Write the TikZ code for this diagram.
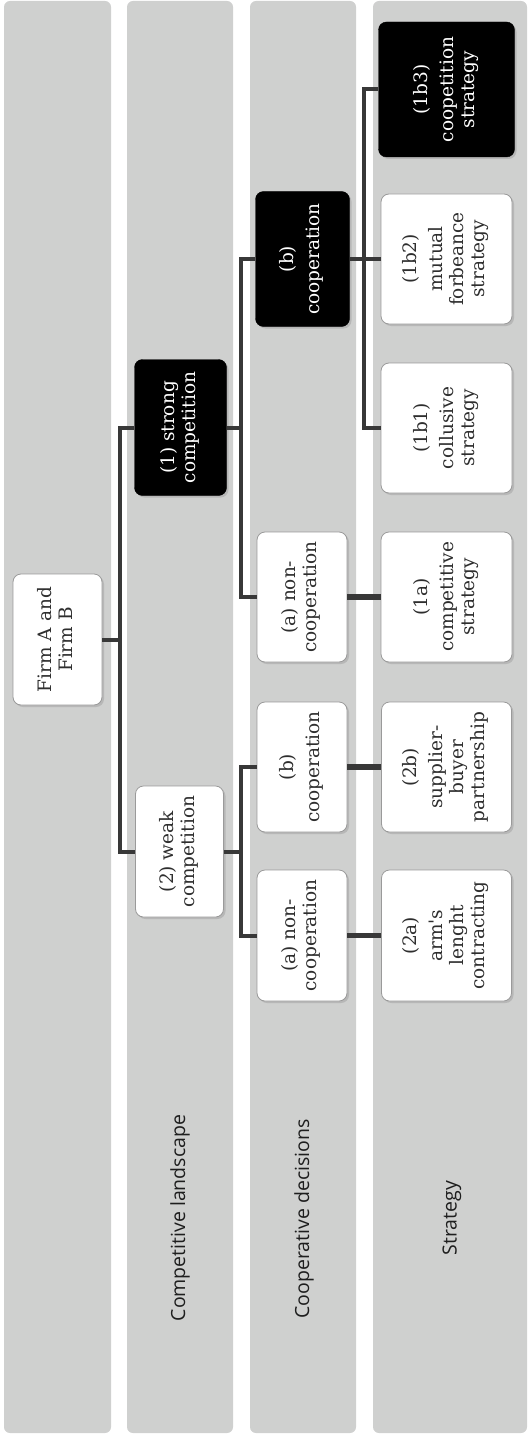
\documentclass[tikz,border=0pt]{standalone}
\usepackage{fontspec}
\setmainfont{DejaVu Serif}
\newfontfamily\labelfont{Open Sans}
\usetikzlibrary{shadows}
\definecolor{bandgray}{HTML}{CFD0CF}
\definecolor{linegray}{HTML}{383838}
\definecolor{txtgray}{HTML}{2E2E2E}
\definecolor{labgray}{HTML}{1E1E1E}
\definecolor{bordergray}{HTML}{9A9A9A}
\newcommand{\rottext}[1]{\rotatebox{90}{\begin{tabular}{@{}c@{}}#1\end{tabular}}}
\begin{document}
\begin{tikzpicture}[x=1pt,y=-1pt,
  bandlabel/.style={font=\labelfont\fontsize{19.5}{23}\selectfont, text=labgray, inner sep=0pt},
  boxbase/.style={rounded corners=8pt, inner sep=0pt, align=center,
    font=\fontsize{18.5}{21}\selectfont,
    drop shadow={shadow xshift=2pt, shadow yshift=-2pt, opacity=0.3}},
  wbox/.style={boxbase, fill=white, draw=bordergray, line width=0.8pt, text=txtgray},
  bbox/.style={boxbase, fill=black, draw=black, text=white},
  link/.style={draw=linegray, line width=4pt},
  slink/.style={draw=linegray, line width=5.5pt},
]
\useasboundingbox (0,0) rectangle (528,1439);
% bands
\fill[bandgray, rounded corners=6pt] (4,1) rectangle (111,1433);
\fill[bandgray, rounded corners=6pt] (127,1) rectangle (233,1433);
\fill[bandgray, rounded corners=6pt] (250,1) rectangle (356,1433);
\fill[bandgray, rounded corners=6pt] (373,1) rectangle (527,1433);
\node[bandlabel, rotate=90] (lab2) at (180,1218) {Competitive landscape};
\node[bandlabel, rotate=90] (lab3) at (304,1219) {Cooperative decisions};
\node[bandlabel, rotate=90] (lab4) at (452,1218) {Strategy};
% nodes
\node[wbox, minimum width=89pt, minimum height=131pt] (firm) at (57.5,639.5) {\rottext{Firm A and\\Firm B}};
\node[bbox, minimum width=92pt, minimum height=136pt] (strong) at (180.5,427.5) {\rottext{(1) strong\\competition}};
\node[wbox, minimum width=88pt, minimum height=131pt] (weak) at (179.5,851.5) {\rottext{(2) weak\\competition}};
\node[bbox, minimum width=94pt, minimum height=135pt] (sB) at (302.5,259) {\rottext{(b)\\[5pt]cooperation}};
\node[wbox, minimum width=90pt, minimum height=130pt] (sA) at (302,597) {\rottext{(a) non-\\cooperation}};
\node[wbox, minimum width=90pt, minimum height=130pt] (wB) at (302,767) {\rottext{(b)\\[5pt]cooperation}};
\node[wbox, minimum width=90pt, minimum height=131pt] (wA) at (302,935.5) {\rottext{(a) non-\\cooperation}};
\node[bbox, minimum width=136pt, minimum height=135pt] (s1b3) at (446.5,89.5) {\rottext{(1b3)\\[5pt]coopetition\\strategy}};
\node[wbox, minimum width=131pt, minimum height=130pt] (s1b2) at (446.5,259) {\rottext{(1b2)\\[5pt]mutual\\forbeance\\strategy}};
\node[wbox, minimum width=131pt, minimum height=130pt] (s1b1) at (446.5,428) {\rottext{(1b1)\\[5pt]collusive\\strategy}};
\node[wbox, minimum width=131pt, minimum height=130pt] (s1a) at (446.5,597) {\rottext{(1a)\\[5pt]competitive\\strategy}};
\node[wbox, minimum width=130pt, minimum height=130pt] (w2b) at (446.5,767) {\rottext{(2b)\\[5pt]supplier-\\buyer\\partnership}};
\node[wbox, minimum width=130pt, minimum height=131pt] (w2a) at (446.5,935.5) {\rottext{(2a)\\[5pt]arm\textquotesingle s\\lenght\\contracting}};
% trunk coordinates
\coordinate (t1) at (119.5,0);
\coordinate (t2) at (241,0);
\coordinate (t3) at (363.5,0);
% connectors
\draw[link] (firm.east) -- (firm.east -| t1) |- (strong.west);
\draw[link] (firm.east -| t1) |- (weak.west);
\draw[link] (strong.east) -- (strong.east -| t2) |- (sB.west);
\draw[link] (strong.east -| t2) |- (sA.west);
\draw[link] (weak.east) -- (weak.east -| t2) |- (wB.west);
\draw[link] (weak.east -| t2) |- (wA.west);
\draw[link] (sB.east) -- (sB.east -| t3) |- (s1b3.west);
\draw[link] (sB.east -| t3) |- (s1b1.west);
\draw[link] (sB.east -| t3) -- (s1b2.west);
\draw[slink] (sA.east) -- (s1a.west);
\draw[slink] (wB.east) -- (w2b.west);
\draw[slink] (wA.east) -- (w2a.west);
\end{tikzpicture}
\end{document}
